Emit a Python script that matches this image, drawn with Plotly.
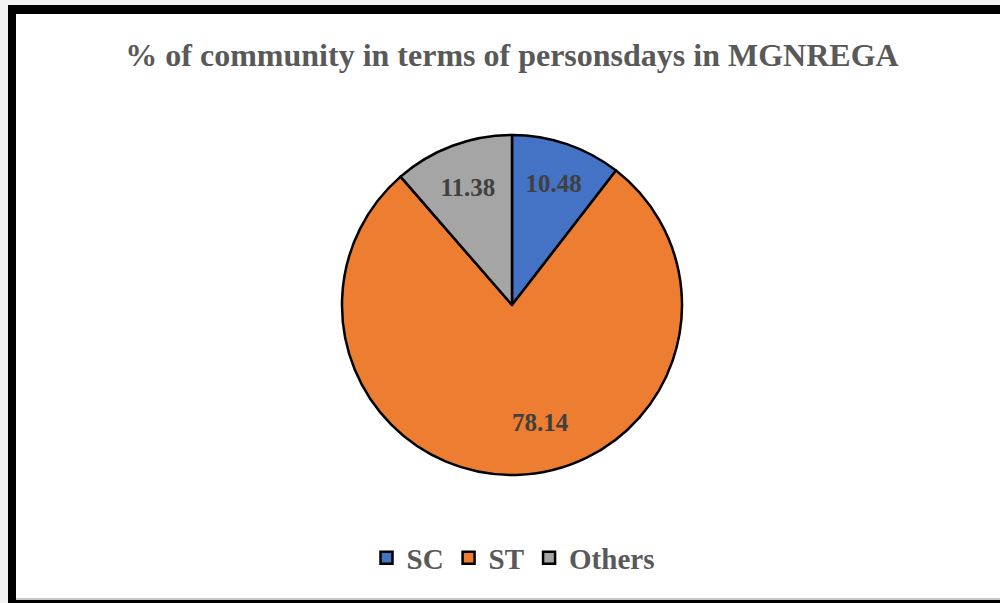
import math
import plotly.graph_objects as go

categories = ["SC", "ST", "Others"]
values = [10.48, 78.14, 11.38]
colors = ["#4472C4", "#ED7D31", "#A5A5A5"]
title_text = "% of community in terms of personsdays in MGNREGA"

W, H = 1000, 603
cx, cy, r = 512, 305, 170

# Large slice label placed as an annotation (Excel puts it nearer the rim than plotly does)
big = values.index(max(values))
textpos = ["none" if i == big else "inside" for i in range(len(values))]

fig = go.Figure(go.Pie(
    labels=categories, values=values, sort=False, direction="clockwise", rotation=0,
    marker=dict(colors=colors, line=dict(color="black", width=2.5)),
    texttemplate="%{value:.2f}", textposition=textpos, insidetextorientation="horizontal",
    textfont=dict(family="Liberation Serif", size=25, color="#404040", weight="bold"),
    domain=dict(x=[(cx - r) / W, (cx + r) / W], y=[1 - (cy + r) / H, 1 - (cy - r) / H]),
    hoverinfo="label+value",
))

total = sum(values)
start = sum(values[:big])
mid = (start + values[big] / 2) / total * 2 * math.pi
rr = 0.69 * r
ax_px = cx + rr * math.sin(mid) + 0.15 * r
ay_px = cy - rr * math.cos(mid)
annotations = [dict(
    x=ax_px / W, y=1 - ay_px / H, xref="paper", yref="paper", showarrow=False,
    xanchor="center", yanchor="middle",
    text=f"{values[big]:.2f}",
    font=dict(family="Liberation Serif", size=25, color="#404040", weight="bold"),
)]

shapes = [
    dict(type="rect", xref="paper", yref="paper", x0=0, x1=1, y0=0, y1=1,
         fillcolor="#f2f2f2", line=dict(width=0), layer="below"),
    dict(type="rect", xref="paper", yref="paper", x0=8 / W, x1=1, y0=0, y1=1 - 5 / H,
         fillcolor="black", line=dict(width=0), layer="below"),
    dict(type="rect", xref="paper", yref="paper", x0=16 / W, x1=1, y0=1 - 598 / H, y1=1 - 14 / H,
         fillcolor="white", line=dict(width=0), layer="below"),
    dict(type="rect", xref="paper", yref="paper", x0=16 / W, x1=1, y0=1 - 600 / H, y1=1 - 598 / H,
         fillcolor="#c8c8c8", line=dict(width=0), layer="below"),
]

fig.update_layout(
    width=W, height=H, margin=dict(l=0, r=0, t=0, b=0),
    paper_bgcolor="white", plot_bgcolor="white",
    shapes=shapes, annotations=annotations,
    title=dict(text=title_text, x=512 / W, xanchor="center", y=1 - 55 / H, yanchor="middle",
               font=dict(family="Liberation Serif", size=32, color="#595959", weight="bold")),
    showlegend=True,
    legend=dict(orientation="h", x=513 / W, xanchor="center", y=1 - 558 / H, yanchor="middle",
                font=dict(family="Liberation Serif", size=29, color="#595959", weight="bold"),
                itemwidth=30, tracegroupgap=0, bgcolor="rgba(0,0,0,0)"),
)

fig.write_html("out.html", config={"displayModeBar": False})
with open("out.html", encoding="utf-8") as f:
    html = f.read()
html = html.replace("<body>", '<body style="margin:0;padding:0;overflow:hidden">', 1)
with open("out.html", "w", encoding="utf-8") as f:
    f.write(html)
